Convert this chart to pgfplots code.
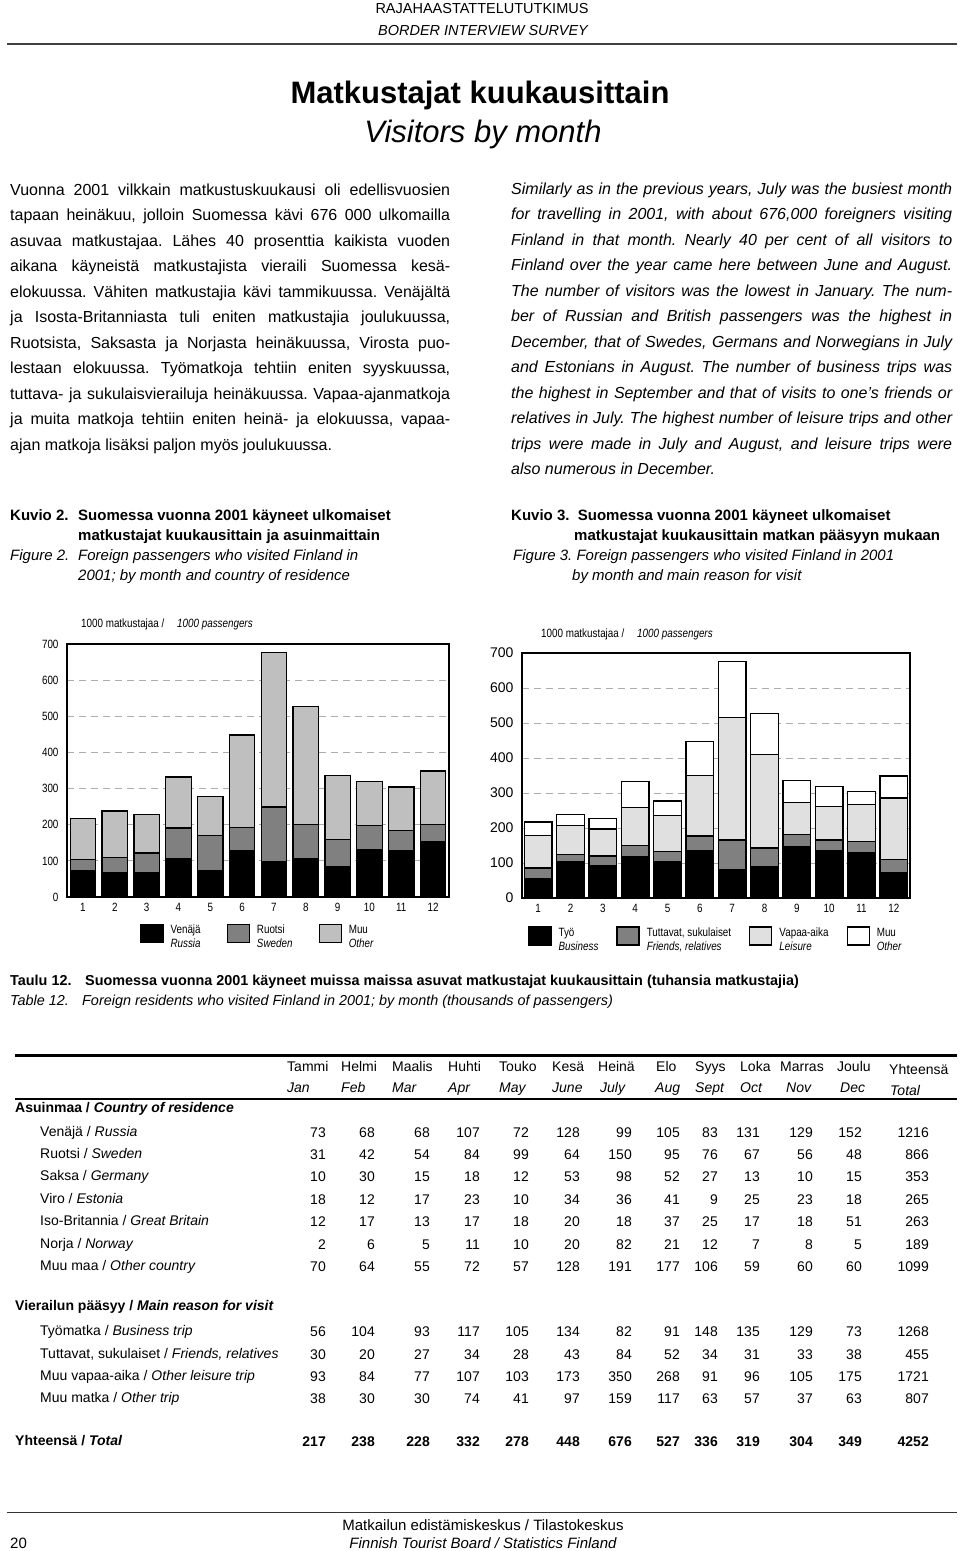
\documentclass[border=0pt]{standalone}
\usepackage{pgfplots}
\usepackage{pgfplotstable}
\pgfplotsset{compat=1.18}
\usepackage{fontspec}
\setmainfont{Liberation Sans}
\newfontfamily\narrow{Liberation Sans}[FakeStretch=0.82]
\newcommand\fs[2]{\fontsize{#1}{#2}\selectfont}
\frenchspacing
\definecolor{midgray}{gray}{0.5}
\definecolor{ltgray}{gray}{0.75}
\definecolor{vltgray}{gray}{0.88}

\pgfplotstableread{
m ru se ot
1 73 31 113
2 68 42 128
3 68 54 106
4 107 84 141
5 72 99 107
6 128 64 256
7 99 150 427
8 105 95 327
9 83 76 177
10 131 67 121
11 129 56 119
12 152 48 149
}\countrytab

\pgfplotstableread{
m bu fr le ot
1 56 30 93 38
2 104 20 84 30
3 93 27 77 30
4 117 34 107 74
5 105 28 103 41
6 134 43 173 97
7 82 84 350 159
8 91 52 268 117
9 148 34 91 63
10 135 31 96 57
11 129 33 105 37
12 73 38 175 63
}\reasontab

\newcommand\jl[2]{\makebox[#1][s]{#2}\\}
\def\redges{{326,375,430,480,529,580,632,680,718,760,813,862,929}}
\newcommand\trow[4]{%
  \node[anchor=base west, inner sep=0, font=#4] at (40,#1+5) {#2};
  \foreach \v [count=\i] in {#3} {%
    \pgfmathsetmacro\xx{\redges[\i-1]}%
    \node[anchor=base east, inner sep=0, font=#4] at (\xx,#1+6) {\v};
  }%
}

\pgfplotsset{
  chartbase/.style={
    anchor=south west, scale only axis,
    xmin=0.5, xmax=12.5, ymin=0, ymax=700,
    ybar stacked,
    xtick={1,...,12}, ytick={0,100,...,700},
    major tick length=0pt,
    ymajorgrids, grid style={gray!65, dash pattern=on 7pt off 5pt, line width=0.8pt},
    axis line style={black, line width=1.6pt},
    /pgf/number format/assume math mode=true,
    xticklabel style={font=\narrow\fs{12}{14}, yshift=-3pt},
    yticklabel style={xshift=-5pt},
    every axis plot/.append style={draw=black, line width=1.3pt},
    legend image code/.code={\draw[#1, line width=1.3pt] (0pt,-9pt) rectangle (22pt,9pt);},
    legend cell align=left,
  }
}

\begin{document}
\begin{tikzpicture}
\useasboundingbox (0pt,0pt) rectangle (960pt,-1551pt);
\begin{scope}[x=1pt,y=-1pt]
% header
\node[anchor=base, inner sep=0, font=\fs{14.5}{17}] at (482,13) {RAJAHAASTATTELUTUTKIMUS};
\node[anchor=base, inner sep=0, font=\fs{14.5}{17}\itshape] at (483,35) {BORDER INTERVIEW SURVEY};
\draw[line width=2pt, black!75] (7,44) -- (957,44);
\node[anchor=base, inner sep=0, font=\fs{31}{36}\bfseries] at (480,103) {Matkustajat kuukausittain};
\node[anchor=base, inner sep=0, font=\fs{31}{36}\itshape] at (483,142) {Visitors by month};

% body text
\node[anchor=base west, inner sep=0] at (10,195) {\parbox[t]{440pt}{\fs{16}{25.5}%
\jl{440pt}{Vuonna 2001 vilkkain matkustuskuukausi oli edellisvuosien}
\jl{440pt}{tapaan heinäkuu, jolloin Suomessa kävi 676 000 ulkomailla}
\jl{440pt}{asuvaa matkustajaa. Lähes 40 prosenttia kaikista vuoden}
\jl{440pt}{aikana käyneistä matkustajista vieraili Suomessa kesä-}
\jl{440pt}{elokuussa. Vähiten matkustajia kävi tammikuussa. Venäjältä}
\jl{440pt}{ja Isosta-Britanniasta tuli eniten matkustajia joulukuussa,}
\jl{440pt}{Ruotsista, Saksasta ja Norjasta heinäkuussa, Virosta puo-}
\jl{440pt}{lestaan elokuussa. Työmatkoja tehtiin eniten syyskuussa,}
\jl{440pt}{tuttava- ja sukulaisvierailuja heinäkuussa. Vapaa-ajanmatkoja}
\jl{440pt}{ja muita matkoja tehtiin eniten heinä- ja elokuussa, vapaa-}
ajan matkoja lisäksi paljon myös joulukuussa.}};

\node[anchor=base west, inner sep=0] at (511,194) {\parbox[t]{441pt}{\fs{16}{25.5}\itshape
\jl{441pt}{Similarly as in the previous years, July was the busiest month}
\jl{441pt}{for travelling in 2001, with about 676,000 foreigners visiting}
\jl{441pt}{Finland in that month. Nearly 40 per cent of all visitors to}
\jl{441pt}{Finland over the year came here between June and August.}
\jl{441pt}{The number of visitors was the lowest in January. The num-}
\jl{441pt}{ber of Russian and British passengers was the highest in}
\jl{441pt}{December, that of Swedes, Germans and Norwegians in July}
\jl{441pt}{and Estonians in August. The number of business trips was}
\jl{441pt}{the highest in September and that of visits to one’s friends or}
\jl{441pt}{relatives in July. The highest number of leisure trips and other}
\jl{441pt}{trips were made in July and August, and leisure trips were}
also numerous in December.}};

% captions
\begin{scope}[every node/.style={anchor=base west, inner sep=0}]
\node[font=\fs{15}{18}\bfseries] at (10,520) {Kuvio 2.};
\node[font=\fs{15}{18}\bfseries] at (78,520) {Suomessa vuonna 2001 käyneet ulkomaiset};
\node[font=\fs{15}{18}\bfseries] at (78,540) {matkustajat kuukausittain ja asuinmaittain};
\node[font=\fs{15}{18}\itshape] at (10,560) {Figure 2.};
\node[font=\fs{15}{18}\itshape] at (78,560) {Foreign passengers who visited Finland in};
\node[font=\fs{15}{18}\itshape] at (78,580) {2001; by month and country of residence};
\node[font=\fs{15}{18}\bfseries] at (511,520) {Kuvio 3.\ \ Suomessa vuonna 2001 käyneet ulkomaiset};
\node[font=\fs{15}{18}\bfseries] at (574,540) {matkustajat kuukausittain matkan pääsyyn mukaan};
\node[font=\fs{15}{18}\itshape] at (513,560) {Figure 3. Foreign passengers who visited Finland in 2001};
\node[font=\fs{15}{18}\itshape] at (572,580) {by month and main reason for visit};
% chart unit labels
\node[font=\narrow\fs{12}{14}] at (81,627) {1000 matkustajaa /};
\node[font=\narrow\fs{12}{14}\itshape] at (177,627) {1000 passengers};
\node[font=\narrow\fs{12}{14}] at (541,637) {1000 matkustajaa /};
\node[font=\narrow\fs{12}{14}\itshape] at (637,637) {1000 passengers};

% table caption
\node[font=\fs{14.4}{17}\bfseries] at (10,985) {Taulu 12.};
\node[font=\fs{14.4}{17}\bfseries] at (85,985) {Suomessa vuonna 2001 käyneet muissa maissa asuvat matkustajat kuukausittain (tuhansia matkustajia)};
\node[font=\fs{14.4}{17}\itshape] at (10,1005) {Table 12.};
\node[font=\fs{14.4}{17}\itshape] at (82,1005) {Foreign residents who visited Finland in 2001; by month (thousands of passengers)};
\end{scope}

% table
\draw[line width=3pt] (15,1055) -- (957,1055);
\draw[line width=2.2pt] (15,1099) -- (957,1099);
\foreach \t/\x in {Tammi/287,Helmi/341,Maalis/392,Huhti/448,Touko/499,Kesä/552,Heinä/598,Elo/656,Syys/695,Loka/740,Marras/780,Joulu/837}
  \node[anchor=base west, inner sep=0, font=\fs{14}{17}] at (\x,1071) {\t};
\node[anchor=base west, inner sep=0, font=\fs{14}{17}] at (889,1074) {Yhteensä};
\foreach \t/\x in {Jan/287,Feb/341,Mar/392,Apr/448,May/499,June/552,July/600,Aug/655,Sept/695,Oct/740,Nov/786,Dec/840}
  \node[anchor=base west, inner sep=0, font=\fs{14}{17}\itshape] at (\x,1092) {\t};
\node[anchor=base west, inner sep=0, font=\fs{14}{17}\itshape] at (890,1095) {Total};

\node[anchor=base west, inner sep=0, font=\fs{14}{17}\bfseries] at (15,1112) {Asuinmaa / \textit{Country of residence}};
\trow{1131}{Venäjä / \textit{Russia}}{73,68,68,107,72,128,99,105,83,131,129,152,1216}{\fs{14}{17}}
\trow{1153}{Ruotsi / \textit{Sweden}}{31,42,54,84,99,64,150,95,76,67,56,48,866}{\fs{14}{17}}
\trow{1175}{Saksa / \textit{Germany}}{10,30,15,18,12,53,98,52,27,13,10,15,353}{\fs{14}{17}}
\trow{1198}{Viro / \textit{Estonia}}{18,12,17,23,10,34,36,41,9,25,23,18,265}{\fs{14}{17}}
\trow{1220}{Iso-Britannia / \textit{Great Britain}}{12,17,13,17,18,20,18,37,25,17,18,51,263}{\fs{14}{17}}
\trow{1243}{Norja / \textit{Norway}}{2,6,5,11,10,20,82,21,12,7,8,5,189}{\fs{14}{17}}
\trow{1265}{Muu maa / \textit{Other country}}{70,64,55,72,57,128,191,177,106,59,60,60,1099}{\fs{14}{17}}
\node[anchor=base west, inner sep=0, font=\fs{14}{17}\bfseries] at (15,1310) {Vierailun pääsyy / \textit{Main reason for visit}};
\trow{1330}{Työmatka / \textit{Business trip}}{56,104,93,117,105,134,82,91,148,135,129,73,1268}{\fs{14}{17}}
\trow{1353}{Tuttavat, sukulaiset / \textit{Friends, relatives}}{30,20,27,34,28,43,84,52,34,31,33,38,455}{\fs{14}{17}}
\trow{1375}{Muu vapaa-aika / \textit{Other leisure trip}}{93,84,77,107,103,173,350,268,91,96,105,175,1721}{\fs{14}{17}}
\trow{1397}{Muu matka / \textit{Other trip}}{38,30,30,74,41,97,159,117,63,57,37,63,807}{\fs{14}{17}}
\node[anchor=base west, inner sep=0, font=\fs{14}{17}\bfseries] at (15,1445) {Yhteensä / \textit{Total}};
\foreach \v [count=\i] in {217,238,228,332,278,448,676,527,336,319,304,349,4252} {%
  \pgfmathsetmacro\xx{\redges[\i-1]}%
  \node[anchor=base east, inner sep=0, font=\fs{14}{17}\bfseries] at (\xx,1446) {\v};
}

% footer
\draw[line width=1pt, black!80] (7,1512) -- (957,1512);
\node[anchor=base, inner sep=0, font=\fs{15}{18}] at (483,1530) {Matkailun edistämiskeskus / Tilastokeskus};
\node[anchor=base, inner sep=0, font=\fs{15}{18}\itshape] at (483,1548) {Finnish Tourist Board / Statistics Finland};
\node[anchor=base west, inner sep=0, font=\fs{15}{18}] at (10,1548) {20};
\end{scope}

% left chart
\begin{axis}[chartbase,
  at={(67pt,-897pt)}, width=382pt, height=253pt, bar width=0.8,
  yticklabel style={font=\narrow\fs{12}{14}},
  legend columns=3,
  legend style={at={(0.5,-0.09)}, anchor=north, draw=none, fill=none,
    font=\narrow\fs{12}{14},
    /tikz/every odd column/.append style={column sep=5pt},
    /tikz/every even column/.append style={column sep=24pt}},
]
\addplot[fill=black] table[x=m,y=ru]{\countrytab};
\addlegendentry{\begin{tabular}{@{}l@{}}Venäjä\\\textit{Russia}\end{tabular}}
\addplot[fill=midgray] table[x=m,y=se]{\countrytab};
\addlegendentry{\begin{tabular}{@{}l@{}}Ruotsi\\\textit{Sweden}\end{tabular}}
\addplot[fill=ltgray] table[x=m,y=ot]{\countrytab};
\addlegendentry{\begin{tabular}{@{}l@{}}Muu\\\textit{Other}\end{tabular}}
\end{axis}

% right chart
\begin{axis}[chartbase,
  at={(522pt,-898pt)}, width=388pt, height=245pt, bar width=0.86,
  yticklabel style={font=\fs{14}{16}},
  legend columns=4,
  legend style={at={(0.5,-0.1)}, anchor=north, draw=none, fill=none,
    font=\narrow\fs{12}{14},
    /tikz/every odd column/.append style={column sep=5pt},
    /tikz/every even column/.append style={column sep=16pt}},
]
\addplot[fill=black] table[x=m,y=bu]{\reasontab};
\addlegendentry{\begin{tabular}{@{}l@{}}Työ\\\textit{Business}\end{tabular}}
\addplot[fill=midgray] table[x=m,y=fr]{\reasontab};
\addlegendentry{\begin{tabular}{@{}l@{}}Tuttavat, sukulaiset\\\textit{Friends, relatives}\end{tabular}}
\addplot[fill=vltgray] table[x=m,y=le]{\reasontab};
\addlegendentry{\begin{tabular}{@{}l@{}}Vapaa-aika\\\textit{Leisure}\end{tabular}}
\addplot[fill=white] table[x=m,y=ot]{\reasontab};
\addlegendentry{\begin{tabular}{@{}l@{}}Muu\\\textit{Other}\end{tabular}}
\end{axis}
\end{tikzpicture}
\end{document}
